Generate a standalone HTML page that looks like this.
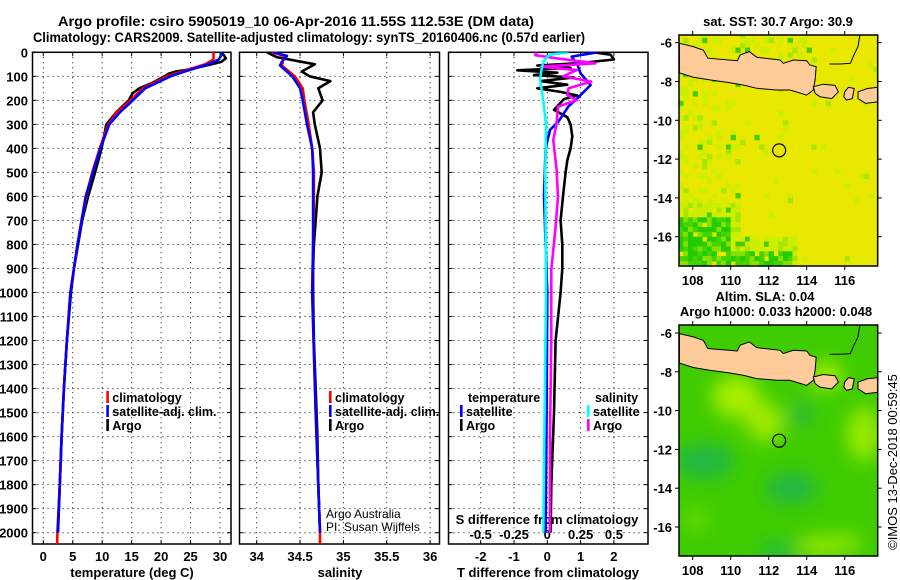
<!DOCTYPE html>
<html><head><meta charset="utf-8"><style>
html,body{margin:0;padding:0;background:#fff;width:900px;height:580px;overflow:hidden}
svg{display:block}
text{font-family:"Liberation Sans",Arial,sans-serif}
.b{font-weight:bold;font-size:13px}
</style></head><body>
<svg id="fig" width="900" height="580" viewBox="0 0 900 580" xmlns="http://www.w3.org/2000/svg">
<defs>
<clipPath id="c1"><rect x="32.5" y="52.3" width="198.5" height="491.7"/></clipPath>
<clipPath id="c2"><rect x="239.5" y="52.3" width="200" height="491.7"/></clipPath>
<clipPath id="c3"><rect x="448.5" y="52.3" width="199.5" height="491.7"/></clipPath>
<clipPath id="m1"><rect x="679" y="35" width="198.7" height="231"/></clipPath>
<clipPath id="m2"><rect x="679" y="325" width="198.7" height="231"/></clipPath>
<filter id="blur" x="-50%" y="-50%" width="200%" height="200%"><feGaussianBlur stdDeviation="9"/></filter>
</defs>
<text x="296" y="26" class="b" text-anchor="middle" textLength="476" lengthAdjust="spacingAndGlyphs" style="font-size:14px">Argo profile: csiro 5905019_10 06-Apr-2016 11.55S 112.53E (DM data)</text>
<text x="309" y="42" class="b" text-anchor="middle" textLength="552" lengthAdjust="spacingAndGlyphs" style="font-size:14px">Climatology: CARS2009. Satellite-adjusted climatology: synTS_20160406.nc (0.57d earlier)</text>
<g id="g"></g>
</svg>
<script>
// ---- profile data (depth dbar, value) ----
const depthTicks=[0,100,200,300,400,500,600,700,800,900,1000,1100,1200,1300,1400,1500,1600,1700,1800,1900,2000];
const tempTicks=[0,5,10,15,20,25,30];
const salTicks=[34,34.5,35,35.5,36];
const tdiffTicks=[-2,-1,0,1,2];
const sdiffTicks=[-0.5,-0.25,0,0.25,0.5];
const sdiffLabels=["-0.5","-0.25","0","0.25","0.5"];

const argoTDepth=[0,10,25,40,50,70,80,90,100,130,150,170,200,250,300,400,500,600,700,800,900,1000,1200,1400,1600,1800,2000];
const argoT=[30.2,30.6,31.0,30.2,28.5,25,22.5,21.2,20.6,18.3,16.3,15.2,14.5,12.4,10.7,9.9,8.8,7.6,6.6,5.9,5.2,4.7,4.0,3.5,3.1,2.8,2.5];
const climTDepth=[0,30,50,80,100,150,200,250,300,400,500,600,700,800,1000,1200,1400,1600,1800,2000,2054];
const climT=[28.9,28.9,27.5,23.5,21.0,16.9,14.8,12.5,11.0,9.6,8.3,7.3,6.5,5.8,4.6,4.0,3.5,3.1,2.8,2.4,2.35];
const satTDepth=[0,30,50,80,100,150,200,250,300,400,500,600,700,800,1000,1200,1400,1600,1800,2000];
const satT=[30.5,29.8,28,24,21.6,17.3,15.2,13,11.2,9.7,8.4,7.2,6.5,5.8,4.6,4.0,3.5,3.1,2.8,2.45];

const argoSDepth=[0,20,50,80,100,120,150,200,250,300,400,500,600,700,800,900,1000,1200,1400,1600,1800,2000];
const argoS=[34.12,34.23,34.67,34.52,34.61,34.85,34.71,34.76,34.65,34.67,34.73,34.75,34.70,34.68,34.66,34.65,34.65,34.66,34.68,34.70,34.71,34.73];
const climSDepth=[0,15,40,55,100,150,200,300,400,500,600,800,1000,1500,2000,2054];
const climS=[34.17,34.32,34.3,34.29,34.44,34.53,34.55,34.6,34.64,34.66,34.66,34.65,34.64,34.68,34.73,34.73];
const satSDepth=[0,15,40,55,100,150,200,300,400,500,600,800,1000,1500,2000];
const satS=[34.19,34.35,34.29,34.27,34.41,34.5,34.53,34.58,34.64,34.65,34.65,34.65,34.64,34.68,34.73];

const argoTdDepth=[0,10,30,45,55,65,75,85,95,105,120,135,150,165,180,195,210,240,270,300,350,400,450,500,600,700,800,900,1000,1200,1500,1800,2000];
const argoTd=[1.4,1.9,2.0,1.0,-0.3,0.7,-0.9,0.3,-0.4,0.8,-0.2,0.6,-0.3,0.4,0.9,0.5,0.4,0.2,0.6,0.7,0.75,0.7,0.6,0.55,0.47,0.4,0.45,0.45,0.4,0.25,0.2,0.12,0.1];
const satTdDepth=[0,18,50,88,136,192,226,289,323,400,600,800,1000,1500,2000];
const satTd=[1.5,0.73,0.9,1.0,1.3,0.9,0.63,0.33,0.08,-0.05,-0.1,-0.05,0,-0.02,-0.05];
const argoSdDepth=[0,12,25,46,60,74,100,122,150,178,199,226,296,365,490,601,740,906,1200,1600,2000];
const argoSd=[-0.08,-0.09,0.07,0.36,-0.05,0.22,0.12,0.33,0.16,0.15,0.22,0.08,0.07,0.045,0.07,0.08,0.06,0.03,0.03,0.02,0.02];
const satSdDepth=[0,10,30,60,115,200,300,500,1000,1500,2000];
const satSd=[0.16,0.02,-0.02,-0.04,-0.055,-0.03,-0.01,-0.015,-0.01,-0.02,-0.03];

const lonTicks=[108,110,112,114,116];
const latTicks=[-6,-8,-10,-12,-14,-16];

// ---- scales ----
const Y=d=>52.3+d*0.2402;
const TX=t=>43.3+t*5.89;
const SX=s=>256.7+(s-34)*86.7;
const DX=v=>547.3+v*33.3;
const SDX=s=>547.3+s*133.2;
const LX=lon=>692.7+(lon-108)*19;
const LY1=lat=>42.7+(-6-lat)*19.4;
const LY2=lat=>333+(-6-lat)*19.4;

const NS="http://www.w3.org/2000/svg";
const G=document.getElementById('g');
function mk(tag,attrs,parent){const e=document.createElementNS(NS,tag);for(const k in attrs)e.setAttribute(k,attrs[k]);(parent||G).appendChild(e);return e;}
function txt(x,y,s,cls,anchor,parent){const t=mk('text',{x:x,y:y,'text-anchor':anchor||'start'},parent);if(cls)t.setAttribute('style',cls);t.textContent=s;return t;}

// ---- panels ----
const panels=[{x0:32.5,x1:231,clip:'c1',name:'temperature-panel'},{x0:239.5,x1:439.5,clip:'c2',name:'salinity-panel'},{x0:448.5,x1:648,clip:'c3',name:'difference-panel'}];
const bottom=544;
panels.forEach((p,i)=>{
  const grp=mk('g',{});
  
  
  depthTicks.forEach(d=>{
    const l=mk('line',{x1:p.x0,x2:p.x1,y1:Y(d),y2:Y(d),stroke:'#000','stroke-width':1,'stroke-dasharray':'1 4'},grp);
    
    
    mk('line',{x1:p.x0,x2:p.x0+4,y1:Y(d),y2:Y(d),stroke:'#000'},grp);
    mk('line',{x1:p.x1-4,x2:p.x1,y1:Y(d),y2:Y(d),stroke:'#000'},grp);
  });
  const vt=i==0?tempTicks.map(TX):i==1?salTicks.map(SX):tdiffTicks.map(DX);
  vt.forEach(x=>{
    const l=mk('line',{x1:x,x2:x,y1:52.3,y2:bottom,stroke:'#000','stroke-width':1,'stroke-dasharray':'1 4'},grp);
    
    
    mk('line',{x1:x,x2:x,y1:bottom-4,y2:bottom,stroke:'#000'},grp);
    mk('line',{x1:x,x2:x,y1:52.3,y2:56.3,stroke:'#000'},grp);
  });
  const r=mk('rect',{x:p.x0,y:52.3,width:p.x1-p.x0,height:bottom-52.3,fill:'none',stroke:'#000','stroke-width':1.5},grp);
  
  
});
depthTicks.forEach(d=>{
  const t=txt(28,Y(d)+5,String(d),'font-weight:bold;font-size:13px','end');
  
  
});
tempTicks.forEach(v=>{const t=txt(TX(v),561,String(v),'font-weight:bold;font-size:13px','middle');});
salTicks.forEach(v=>{const t=txt(SX(v),561,String(v),'font-weight:bold;font-size:13px','middle');});
tdiffTicks.forEach(v=>{const t=txt(DX(v),561,String(v),'font-weight:bold;font-size:13px','middle');});
sdiffTicks.forEach((v,i)=>{const t=txt(SDX(v),539,sdiffLabels[i],'font-weight:bold;font-size:13px','middle');});
let t;
t=txt(132,577,'temperature (deg C)','font-weight:bold;font-size:13px','middle');
t=txt(340,577,'salinity','font-weight:bold;font-size:13px','middle');
t=txt(548,577,'T difference from climatology','font-weight:bold;font-size:13px','middle');
t=txt(547,524,'S difference from climatology','font-weight:bold;font-size:13px','middle');
t=txt(326,518,'Argo Australia','font-size:12px','start');
t=txt(326,531,'PI: Susan Wijffels','font-size:12px','start');

function series(depths,vals,sx,color,clip,name){
  const pts=depths.map((d,i)=>sx(vals[i]).toFixed(1)+','+Y(d).toFixed(1)).join(' ');
  const pl=mk('polyline',{points:pts,fill:'none',stroke:color,'stroke-width':2.6,'stroke-linejoin':'round','clip-path':'url(#'+clip+')'});
  
  
}
series(argoTDepth,argoT,TX,'#000','c1','argo-temperature-line');
series(climTDepth,climT,TX,'#f00','c1','climatology-temperature-line');
series(satTDepth,satT,TX,'#00f','c1','satellite-temperature-line');
series(argoSDepth,argoS,SX,'#000','c2','argo-salinity-line');
series(climSDepth,climS,SX,'#f00','c2','climatology-salinity-line');
series(satSDepth,satS,SX,'#00f','c2','satellite-salinity-line');
series(argoTdDepth,argoTd,DX,'#000','c3','argo-tdiff-line');
series(satTdDepth,satTd,DX,'#00f','c3','satellite-tdiff-line');
series(argoSdDepth,argoSd,SDX,'#f0f','c3','argo-sdiff-line');
series(satSdDepth,satSd,SDX,'#0ff','c3','satellite-sdiff-line');

function leg(x,y,color,label,name){
  const g=mk('g',{});
  
  
  mk('rect',{x:x-1,y:y-11,width:2.6,height:12,fill:color},g);
  txt(x+5,y,label,'font-weight:bold;font-size:12.5px','start',g);
}
leg(107.3,402,'#f00','climatology','legend-climatology');
leg(107.3,416,'#00f','satellite-adj. clim.','legend-satellite-adj');
leg(107.3,430,'#000','Argo','legend-argo');
leg(330,402,'#f00','climatology','legend-climatology-sal');
leg(330,416,'#00f','satellite-adj. clim.','legend-satellite-adj-sal');
leg(330,430,'#000','Argo','legend-argo-sal');
t=txt(468,402,'temperature','font-weight:bold;font-size:12.5px','start');
leg(461,416,'#00f','satellite','legend-t-satellite');
leg(461,430,'#000','Argo','legend-t-argo');
t=txt(595,402,'salinity','font-weight:bold;font-size:12.5px','start');
leg(588,416,'#0ff','satellite','legend-s-satellite');
leg(588,430,'#f0f','Argo','legend-s-argo');

// ---- maps ----
const java=[[107.3,-6.03],[108.03,-6.2],[108.56,-6.38],[108.8,-6.8],[110.35,-6.93],[110.5,-6.63],[110.98,-6.46],[111.37,-6.75],[112.6,-6.89],[112.77,-7.06],[113.3,-6.89],[114.0,-6.93],[114.17,-7.15],[114.5,-7.24],[114.44,-7.92],[114.35,-8.44],[114.0,-8.7],[113.12,-8.44],[112.42,-8.44],[111.37,-8.35],[110.66,-8.18],[109.96,-8.06],[108.9,-7.92],[108.03,-7.78],[107.3,-7.55]];
const bali=[[114.35,-8.27],[114.88,-8.14],[115.49,-8.2],[115.67,-8.53],[115.32,-8.88],[114.7,-8.79],[114.44,-8.61]];
const lombok=[[116.0,-8.53],[116.2,-8.3],[116.5,-8.36],[116.4,-8.88],[116.1,-8.96],[115.95,-8.79]];
const sumbawa=[[116.7,-8.53],[117.2,-8.36],[117.75,-8.3],[117.75,-9.05],[117.1,-9.13],[116.7,-8.88]];
const coastLine=[[116.8,-5.6],[116.7,-6.2],[116.5,-6.6],[116.3,-7.06],[115.8,-7.1],[115.2,-7.1]];

function hash(i,j){let h=(i*374761393+j*668265263)^0x5bd1e995;h=(h^(h>>>13))*1274126177;h=h^(h>>>16);return ((h>>>0)%1000)/1000;}

function drawMap(LY,clip,name,kind){
  const g=mk('g',{'clip-path':'url(#'+clip+')'});
  
  
  const y0=kind=='sst'?35:325;
  if(kind=='sst'){
    mk('rect',{x:679,y:y0,width:199,height:231,fill:'#e8e800'},g);
    const cs=0.25;
    for(let lon=107.25;lon<117.75;lon+=cs){
      for(let lat=-5.5;lat>-17.6;lat-=cs){
        const i=Math.round(lon*4),j=Math.round(-lat*4);
        const h=hash(i,j);
        let p=0.04;
        if(lon<110.5) p=0.18; if(lon<109) p=0.3;
        if(lat<-14.2&&lon<110.3) p=0.95;
        if(lat<-15.8&&lon<113.5) p=0.9;
        if(lon>113.5&&lat<-9) p=0.015;
        if(lat>-7.8&&lon<114.5) p=0.3;
        if(h<p){
          let c='#ccee00';
          const h2=hash(j,i);
          if((lat<-14.8&&lon<110)||(lat<-16.5&&lon<113.2)) c=h2<0.5?'#22cc00':(h2<0.8?'#44d400':'#88e000');
          else c=h2<0.75?'#ccee00':(h2<0.93?'#a8e600':'#44cc00');
          mk('rect',{x:LX(lon),y:LY(lat),width:cs*19+0.5,height:cs*19.4+0.5,fill:c},g);
        }
      }
    }
  } else {
    mk('rect',{x:679,y:y0,width:199,height:231,fill:'#3fcc00'},g);
    const fg=mk('g',{filter:'url(#blur)'},g);
    const blobs=[[110.3,-9.3,1.3,1.1,'#a6ee00'],[111.8,-10.6,1.0,1.0,'#a0ea00'],[115.0,-8.2,0.9,0.7,'#a6ee00'],[117.0,-11.2,0.9,1.4,'#99ea00'],[114.8,-17.0,1.3,0.6,'#90e400'],[116.2,-16.8,0.6,0.5,'#90e400'],[108.6,-12.6,1.6,0.9,'#22b844'],[113.2,-14.0,1.4,0.8,'#22b844'],[113.7,-10.2,0.6,0.6,'#2ab840'],[112.5,-17.3,1.0,0.5,'#22bb44'],[108.2,-15.6,0.6,0.6,'#66dd00']];
    blobs.forEach(b=>mk('ellipse',{cx:LX(b[0]),cy:LY(b[1]),rx:b[2]*19,ry:b[3]*19.4,fill:b[4]},fg));
  }
  [java,bali,lombok,sumbawa].forEach(poly=>{
    const pg=mk('polygon',{points:poly.map(p=>LX(p[0]).toFixed(1)+','+LY(p[1]).toFixed(1)).join(' '),fill:'#ffcc99',stroke:'#000','stroke-width':1},g);
    
    
  });
  mk('polyline',{points:coastLine.map(p=>LX(p[0]).toFixed(1)+','+LY(p[1]).toFixed(1)).join(' '),fill:'none',stroke:'#000','stroke-width':1},g);
  const c=mk('circle',{cx:LX(112.55),cy:LY(-11.55),r:6.5,fill:'none',stroke:'#000','stroke-width':1.2});
  
  
  const fr=mk('rect',{x:679,y:y0,width:198.7,height:231,fill:'none',stroke:'#000','stroke-width':1.5});
  
  
  lonTicks.forEach(lon=>{
    mk('line',{x1:LX(lon),x2:LX(lon),y1:y0,y2:y0-4,stroke:'#000'});
    mk('line',{x1:LX(lon),x2:LX(lon),y1:y0+231,y2:y0+235,stroke:'#000'});
    const tl=txt(LX(lon),y0+250,String(lon),'font-weight:bold;font-size:13px','middle');
    
    
  });
  latTicks.forEach(lat=>{
    mk('line',{x1:679,x2:675,y1:LY(lat),y2:LY(lat),stroke:'#000'});
    mk('line',{x1:877.7,x2:881.7,y1:LY(lat),y2:LY(lat),stroke:'#000'});
    const tl=txt(672,LY(lat)+5,String(lat),'font-weight:bold;font-size:13px','end');
    
    
  });
}
drawMap(LY1,'m1','sst-map','sst');
drawMap(LY2,'m2','sla-map','sla');
t=txt(778,26,'sat. SST: 30.7 Argo: 30.9','font-weight:bold;font-size:13px','middle');
t=txt(765,301,'Altim. SLA: 0.04','font-weight:bold;font-size:13px','middle');
t=txt(776,316,'Argo h1000: 0.033 h2000: 0.048','font-weight:bold;font-size:13px','middle');
t=txt(0,0,'©IMOS 13-Dec-2018 00:59:45','font-size:13px','middle');
t.setAttribute('transform','translate(897,462) rotate(-90)');


</script>
</body></html>
